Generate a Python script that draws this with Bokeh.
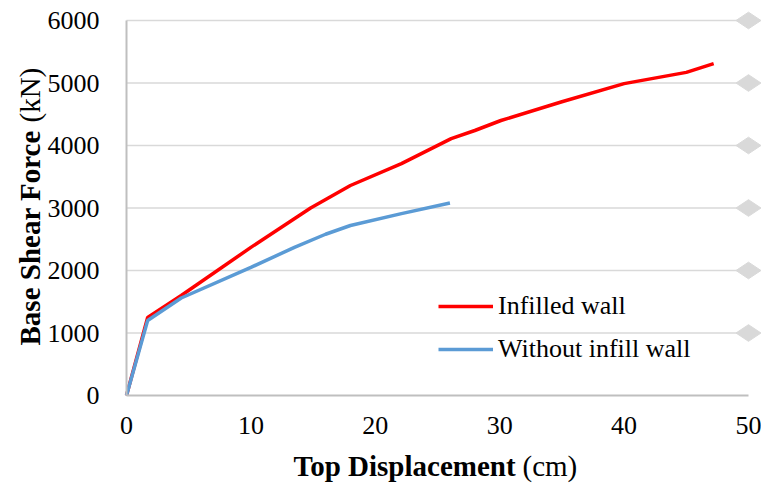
import math
from bokeh.plotting import figure
from bokeh.models import Range1d, Label, FixedTicker, Legend, LegendItem, LinearAxis
from bokeh.embed import file_html
from bokeh.resources import INLINE

# Data
infilled_x = [0, 1.7, 4.4, 10, 14.8, 18, 22.1, 26.1, 28, 30.1, 35, 40, 45, 47.2]
infilled_y = [0, 1250, 1600, 2370, 3000, 3360, 3710, 4110, 4240, 4400, 4700, 4990, 5170, 5310]
without_x = [0, 1.7, 4.4, 10, 13.5, 16, 18, 22.1, 26]
without_y = [0, 1200, 1560, 2050, 2370, 2580, 2720, 2910, 3080]
x_ticks = [0, 10, 20, 30, 40, 50]
y_ticks = [0, 1000, 2000, 3000, 4000, 5000, 6000]
series_names = ["Infilled wall", "Without infill wall"]

FONT = "Liberation Serif"
GRID = "#D9D9D9"

W, H = 761, 486
# plot area in pixels: x 126..748 (0..50), y 395..20 (0..6000)
x0_px, x1_px, y0_px, y1_px = 126, 748, 395, 20
x_min, x_max = x_ticks[0], x_ticks[-1]
y_min, y_max = y_ticks[0], y_ticks[-1]
sx = (x1_px - x0_px) / (x_max - x_min)
sy = (y0_px - y1_px) / (y_max - y_min)

p = figure(width=W, height=H, output_backend="svg", toolbar_location=None,
           x_axis_type=None, y_axis_type=None,
           x_range=Range1d(x_min - x0_px / sx, x_min + (W - x0_px) / sx),
           y_range=Range1d(y_min - (H - y0_px) / sy, y_min + y0_px / sy),
           min_border=0)
p.outline_line_color = None
p.background_fill_color = "white"
p.border_fill_color = "white"

xaxis = LinearAxis(fixed_location=y_min, ticker=FixedTicker(ticks=x_ticks), bounds=(x_min, x_max))
yaxis = LinearAxis(fixed_location=x_min, ticker=FixedTicker(ticks=y_ticks), bounds=(y_min, y_max))
for ax in (xaxis, yaxis):
    ax.axis_line_color = "#BFBFBF"
    ax.axis_line_width = 2
    ax.major_tick_line_color = None
    ax.minor_tick_line_color = None
    ax.major_label_text_font = FONT
    ax.major_label_text_font_size = "26px"
    ax.major_label_text_color = "black"
yaxis.major_label_standoff = 21
xaxis.major_label_standoff = 15

# horizontal gridlines ending at x = 50
gy = y_ticks[1:]
p.segment(x0=[x_min] * len(gy), x1=[x_max] * len(gy), y0=gy, y1=gy,
          line_color=GRID, line_width=1.5)
# decorative diamonds at the right end of gridlines
p.scatter([x_max] * len(gy), gy, marker="diamond", size=25, angle=math.pi / 2,
          fill_color=GRID, line_color=GRID)

p.add_layout(xaxis, "below")
p.add_layout(yaxis, "left")

r1 = p.line(infilled_x, infilled_y, line_color="#FF0000", line_width=3.5)
r2 = p.line(without_x, without_y, line_color="#5B9BD5", line_width=3.5)

legend = Legend(items=[LegendItem(label=series_names[0], renderers=[r1]),
                       LegendItem(label=series_names[1], renderers=[r2])],
                location=(438, 122), background_fill_alpha=0, border_line_color=None,
                label_text_font=FONT, label_text_font_size="26px", label_text_color="black",
                glyph_width=55, label_standoff=5, spacing=13, padding=0, margin=0)
p.add_layout(legend, "center")

# Axis titles (mixed bold / normal)
common = dict(x_units="screen", y_units="screen", text_font=FONT, text_font_size="29px",
              text_color="black", text_baseline="alphabetic")
p.add_layout(Label(x=293, y=21, text="Top Displacement", text_font_style="bold", **common))
p.add_layout(Label(x=522, y=21, text="(cm)", **common))
p.add_layout(Label(x=29, y=141, text="Base Shear Force", text_font_style="bold",
                   angle=math.pi / 2, **common))
p.add_layout(Label(x=29, y=364, text="(kN)", angle=math.pi / 2, **common))

open("out.html", "w").write(file_html(p, INLINE))
